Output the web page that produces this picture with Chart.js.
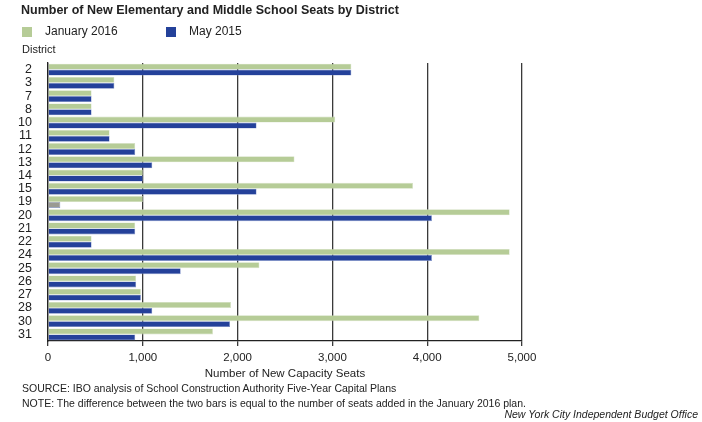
<!DOCTYPE html>
<html>
<head>
<meta charset="utf-8">
<script src="https://cdn.jsdelivr.net/npm/chart.js@4"></script>
<style>
  body { margin: 0; background: #fff; font-family: "Liberation Sans", Arial, sans-serif; color: #222; }
  #wrap { position: relative; width: 702px; height: 422px; overflow: hidden; }
  #chart { position: absolute; left: 0; top: 0; }
  .txt { position: absolute; white-space: nowrap; }
  .sw { position: absolute; width: 10px; height: 10px; }
</style>
</head>
<body>
<div id="wrap">
  <canvas id="chart" width="702" height="422"></canvas>
  <div class="txt" style="left:21px;top:3px;font-size:12.5px;font-weight:bold;">Number of New Elementary and Middle School Seats by District</div>
  <div class="sw" style="left:22px;top:27px;background:#b6cc97;"></div>
  <div class="txt" style="left:45px;top:24px;font-size:12px;">January 2016</div>
  <div class="sw" style="left:166px;top:27px;background:#24419a;"></div>
  <div class="txt" style="left:189px;top:24px;font-size:12px;">May 2015</div>
  <div class="txt" style="left:22px;top:43px;font-size:11px;">District</div>
  <div class="txt" style="left:22px;top:382px;font-size:10.5px;">SOURCE: IBO analysis of School Construction Authority Five-Year Capital Plans</div>
  <div class="txt" style="left:22px;top:397px;font-size:10.5px;">NOTE: The difference between the two bars is equal to the number of seats added in the January 2016 plan.</div>
  <div class="txt" style="right:4px;top:408px;font-size:10.5px;font-style:italic;">New York City Independent Budget Office</div>
</div>
<script>
// districts and seat counts
const districts = ['2', '3', '7', '8', '10', '11', '12', '13', '14', '15', '19', '20', '21', '22', '24', '25', '26', '27', '28', '30', '31'];
const jan2016 = [3200, 700, 460, 460, 3030, 650, 920, 2600, 1000, 3850, 1000, 4870, 920, 460, 4870, 2230, 930, 980, 1930, 4550, 1740];
const may2015 = [3200, 700, 460, 460, 2200, 650, 920, 1100, 1000, 2200, 130, 4050, 920, 460, 4050, 1400, 930, 980, 1100, 1920, 920];
const xTicks = [0, 1000, 2000, 3000, 4000, 5000];

const green = '#b6cc97';
const blue = '#24419a';
// district 19 has a tiny grey stub in the original
const mayColors = districts.map(d => d === '19' ? '#9a9a92' : blue);

const ctx = document.getElementById('chart').getContext('2d');
new Chart(ctx, {
    type: 'bar',
    data: {
        labels: districts,
        datasets: [{
            label: 'January 2016',
            data: jan2016,
            backgroundColor: green,
            borderColor: '#d3e0c2',
            borderWidth: 0.6,
            categoryPercentage: 0.9,
            barPercentage: 1
        }, {
            label: 'May 2015',
            data: may2015,
            backgroundColor: mayColors,
            borderColor: '#7d90c8',
            borderWidth: 0.6,
            categoryPercentage: 0.9,
            barPercentage: 1
        }]
    },
    options: {
        indexAxis: 'y',
        responsive: false,
        animation: false,
        layout: { padding: { left: 18, top: 63, right: 180, bottom: 41 } },
        plugins: {
            legend: { display: false },
            title: { display: false },
            tooltip: { enabled: false }
        },
        scales: {
            x: {
                min: 0,
                max: 5000,
                afterBuildTicks: scale => { scale.ticks = xTicks.map(v => ({ value: v })); },
                afterFit: scale => { scale.height = 40; },
                grid: { color: '#3a3a3a', lineWidth: 1.3, tickLength: 5, drawOnChartArea: true },
                border: { display: true, color: '#222', width: 1.3 },
                ticks: {
                    color: '#222',
                    padding: 5,
                    font: { family: 'Liberation Sans', size: 11.5 },
                    callback: v => v.toLocaleString('en-US')
                },
                title: {
                    display: true,
                    text: 'Number of New Capacity Seats',
                    color: '#222',
                    padding: { top: 0, bottom: 0 },
                    font: { family: 'Liberation Sans', size: 11.5 }
                }
            },
            y: {
                afterFit: scale => { scale.width = 30; },
                grid: { display: false },
                border: { display: true, color: '#222', width: 1.3 },
                ticks: {
                    color: '#222',
                    padding: 8,
                    autoSkip: false,
                    font: { family: 'Liberation Sans', size: 12.5 }
                }
            }
        }
    }
});
</script>
</body>
</html>
